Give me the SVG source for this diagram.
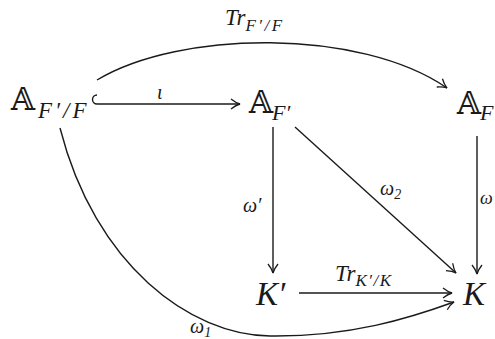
<svg xmlns="http://www.w3.org/2000/svg" width="495" height="339" viewBox="0 0 495 339">
<defs>
<style>
.m{font-family:"Liberation Serif","DejaVu Serif",serif;font-style:italic;fill:#1a1a1a}
.bb{font-family:"DejaVu Serif","DejaVu Sans",serif;font-style:normal;fill:#1a1a1a}
.e{fill:none;stroke:#1a1a1a;stroke-width:1.4}
</style>
<marker id="ah" viewBox="-10 -6 12 12" refX="0" refY="0" markerWidth="12" markerHeight="12" markerUnits="userSpaceOnUse" orient="auto">
<path d="M-9,-5 Q-4,-1 0,0 Q-4,1 -9,5" fill="none" stroke="#1a1a1a" stroke-width="1.3"/>
</marker>
</defs>
<rect width="495" height="339" fill="#fff"/>
<g id="connectors">
<path class="e" d="M97,104 L240,104" marker-end="url(#ah)"/>
<path class="e" d="M97,95 A4.5,4.5 0 0 0 97,104"/>
<path class="e" d="M97,80 C180,30 360,28 447,88" marker-end="url(#ah)"/>
<path class="e" d="M273,127 L273,273" marker-end="url(#ah)"/>
<path class="e" d="M295,127 L456,273" marker-end="url(#ah)"/>
<path class="e" d="M477,136 L477,274" marker-end="url(#ah)"/>
<path class="e" d="M299,293 L452,293" marker-end="url(#ah)"/>
<path class="e" d="M60,128 C95,265 190,335 270,336 C350,337 410,318 454,302" marker-end="url(#ah)"/>
<text class="m" x="157" y="99" font-size="20">ι</text>
<text class="m" x="225" y="25" font-size="23">Tr<tspan font-size="17" dy="6" letter-spacing="2.5">F′/F</tspan></text>
<text class="m" x="243" y="212" font-size="20">ω′</text>
<text class="m" x="380" y="195" font-size="20">ω<tspan font-size="14" dy="4">2</tspan></text>
<text class="m" x="480" y="204" font-size="18">ω</text>
<text class="m" x="335" y="281" font-size="23">Tr<tspan font-size="17" dy="5" letter-spacing="1.5">K′/K</tspan></text>
<text class="m" x="190" y="333" font-size="20">ω<tspan font-size="14" dy="4">1</tspan></text>
</g>
<g id="A_FpF">
<text class="bb" x="11" y="110" font-size="31">𝔸</text>
<text class="m" x="38" y="118" font-size="23" letter-spacing="3">F′/F</text>
</g>
<g id="A_Fp">
<text class="bb" x="249" y="113" font-size="31">𝔸</text>
<text class="m" x="272" y="120" font-size="22">F′</text>
</g>
<g id="A_F">
<text class="bb" x="457" y="114" font-size="31">𝔸</text>
<text class="m" x="480" y="120" font-size="22">F</text>
</g>
<g id="Kp">
<text class="m" x="256" y="305" font-size="33">K′</text>
</g>
<g id="K">
<text class="m" x="463" y="305" font-size="33">K</text>
</g>
</svg>
